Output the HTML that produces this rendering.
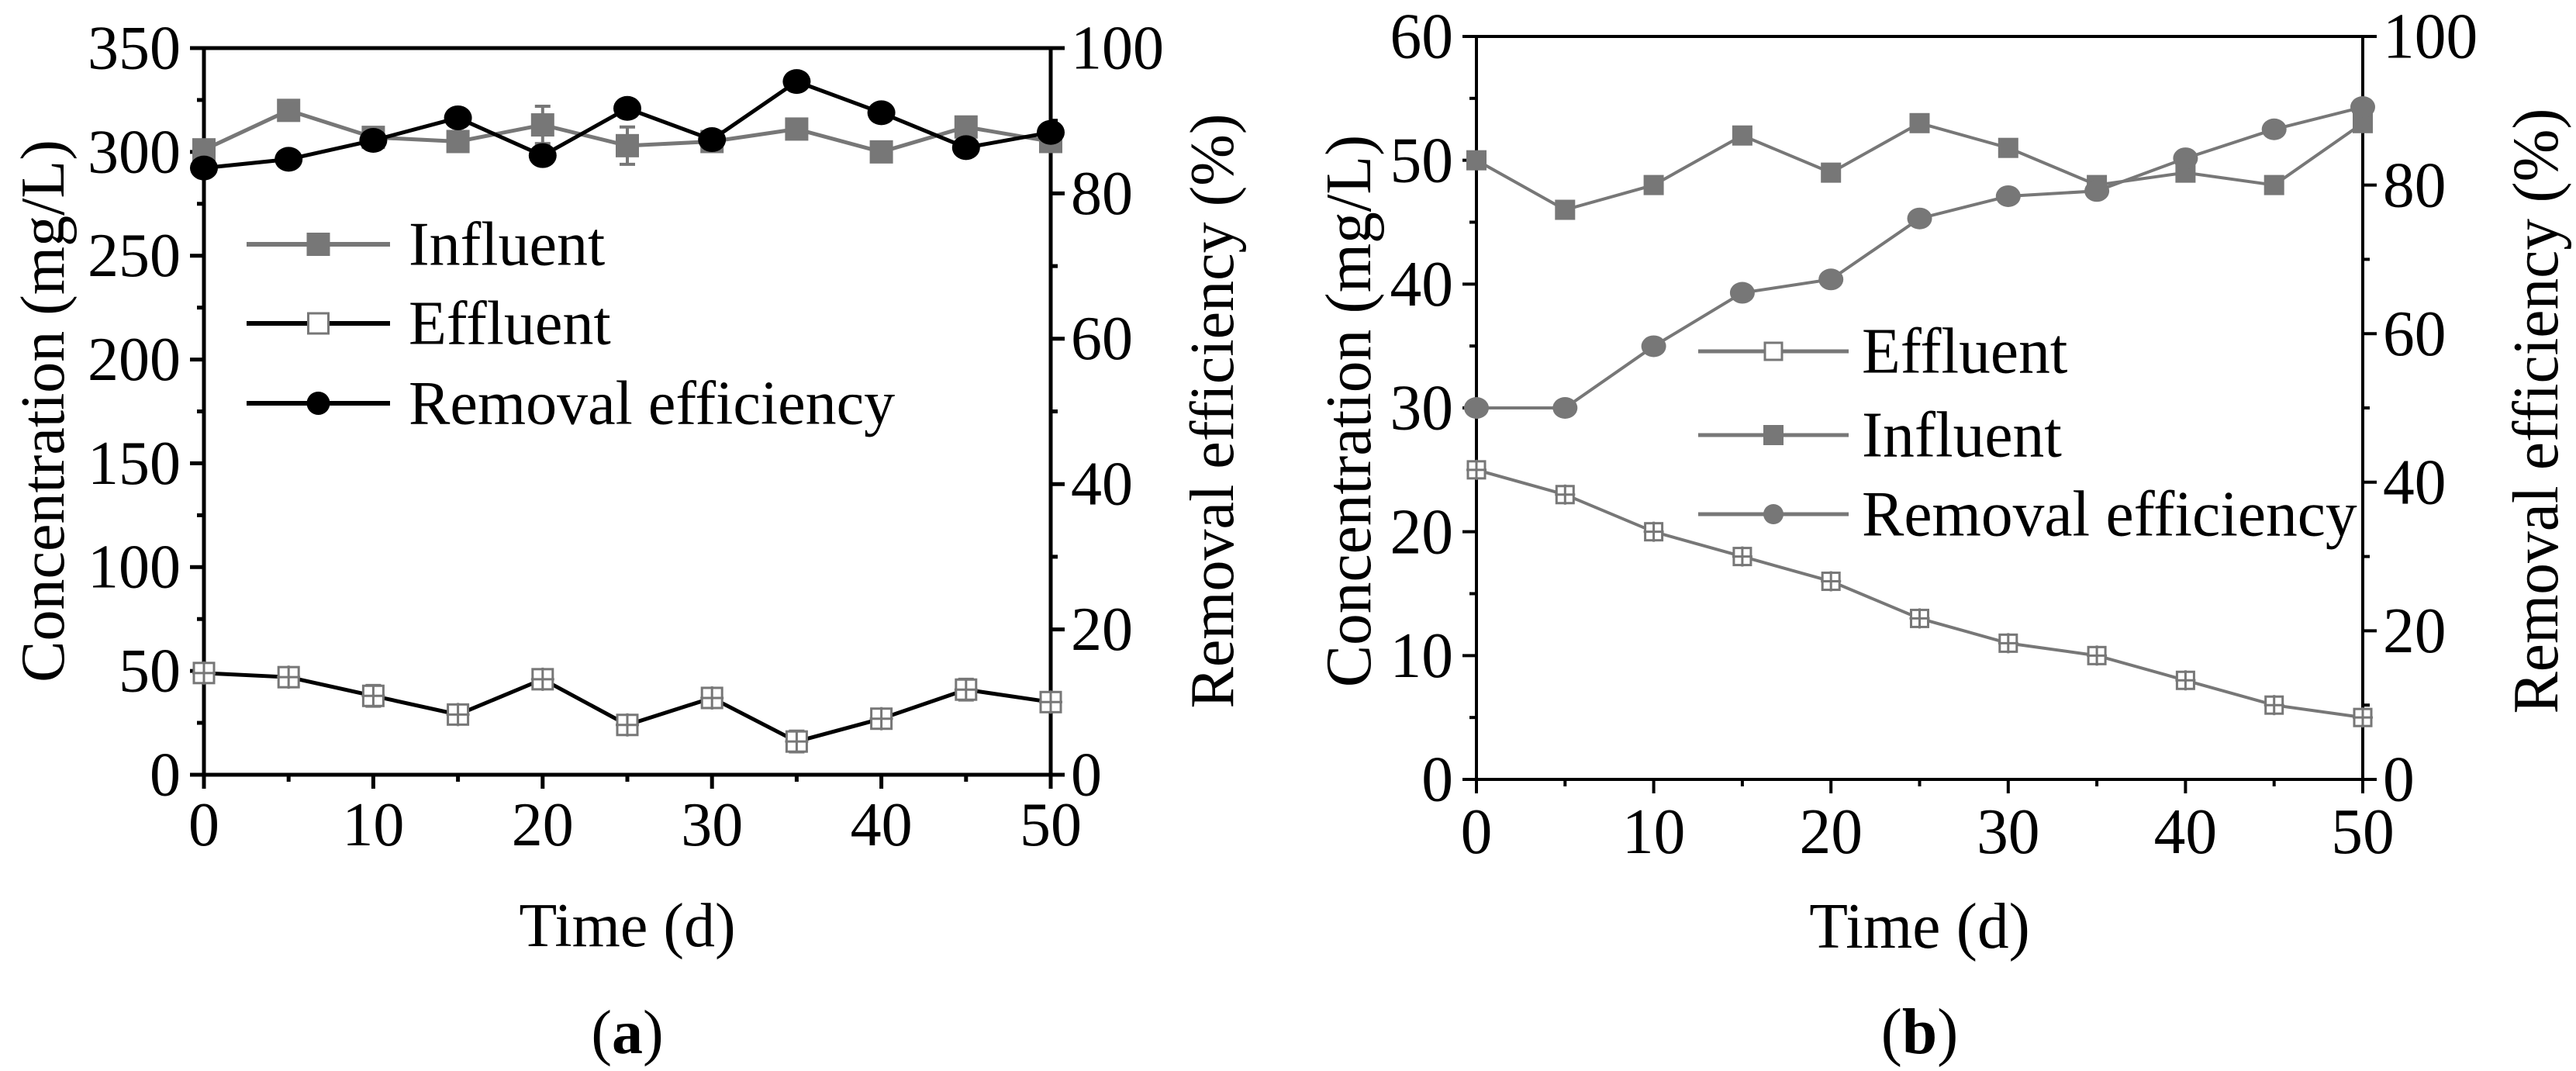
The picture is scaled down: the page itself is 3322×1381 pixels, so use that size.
<!DOCTYPE html>
<html><head><meta charset="utf-8"><style>
html,body{margin:0;padding:0;background:#fff;}
svg{display:block;font-family:"Liberation Serif",serif;}
</style></head><body>
<svg id="fig" width="3322" height="1381" viewBox="0 0 3322 1381" xmlns="http://www.w3.org/2000/svg"></svg>
<script>
const days = [0,5,10,15,20,25,30,35,40,45,50];
const aInfluent = [301,320,307,305,313,303,305,311,300,312,305];
const aInfluentErr = [3,3,4,3,9,9,3,4,3,4,3];
const aEffluent = [49,47,38,29,46,24,37,16,27,41,35];
const aEffluentErr = [2,3,5,3,4,4,4,5,3,5,2];
const aRemoval = [83.5,84.7,87.3,90.4,85.2,91.7,87.4,95.4,91.1,86.3,88.4];
const bInfluent = [50,46,48,52,49,53,51,48,49,48,53];
const bEffluent = [25,23,20,18,16,13,11,10,8,6,5];
const bRemoval = [50,50,58.3,65.5,67.3,75.5,78.5,79.2,83.6,87.5,90.5];
const xTicks = [0,10,20,30,40,50];
const aLeftTicks = [0,50,100,150,200,250,300,350];
const bLeftTicks = [0,10,20,30,40,50,60];
const rightTicks = [0,20,40,60,80,100];

const NS = "http://www.w3.org/2000/svg";
const svg = document.getElementById('fig');
function mk(tag, attrs, parent, text){
  const e = document.createElementNS(NS, tag);
  for (const k in attrs) e.setAttribute(k, attrs[k]);
  if (text !== undefined) e.textContent = text;
  (parent || svg).appendChild(e);
  return e;
}

function panel(cfg){
  const g = mk('g', {});
  
  
  const L=cfg.L,R=cfg.R,T=cfg.T,B=cfg.B;
  const xs = v => L + (v-0)/50*(R-L);
  const yl = v => B - v/cfg.yMax*(B-T);
  const yr = v => B - v/100*(B-T);
  const fs = cfg.fs, sx = cfg.sx;
  function txt(x,y,anchor,s,rot){
    return mk('text',{x:0,y:0,'font-size':fs,'text-anchor':anchor,
      transform:`translate(${x},${y})${rot?' rotate(-90)':''} scale(${sx},1)`},g,s);
  }
  const frame = mk('rect',{x:L,y:T,width:R-L,height:B-T,fill:'none',stroke:'#000','stroke-width':cfg.lw},g);
  
  
  for (let v=0; v<=50; v+=5){
    const major = v%10===0;
    mk('line',{x1:xs(v),x2:xs(v),y1:B,y2:B+(major?18:9),stroke:'#000','stroke-width':cfg.lw},g);
  }
  xTicks.forEach(v=>{
    const t = txt(xs(v),B+cfg.xtlOff,'middle',String(v));
    
    
  });
  const lt = cfg.leftTicks;
  const step = lt[1]-lt[0];
  for (let v=0; v<=cfg.yMax+1e-9; v+=step/2){
    const major = Math.abs((v/step)-Math.round(v/step))<1e-6;
    mk('line',{x1:L,x2:L-(major?18:9),y1:yl(v),y2:yl(v),stroke:'#000','stroke-width':cfg.lw},g);
  }
  lt.forEach(v=>{
    const t = txt(L-30,yl(v)+fs*0.33,'end',String(v));
    
    
  });
  for (let v=0; v<=100; v+=10){
    const major = v%20===0;
    mk('line',{x1:R,x2:R+(major?18:9),y1:yr(v),y2:yr(v),stroke:'#000','stroke-width':cfg.lw},g);
  }
  rightTicks.forEach(v=>{
    const t = txt(R+26,yr(v)+fs*0.33,'start',String(v));
    
    
  });
  const yt = txt(cfg.ltx,cfg.ltc,'middle','Concentration (mg/L)',true);
  
  
  const rt = txt(cfg.rtx,cfg.rtc,'middle','Removal efficiency (%)',true);
  
  
  const xt = txt((L+R)/2,cfg.xty,'middle','Time (d)');
  
  
  const lab = txt((L+R)/2,1358,'middle');
  
  
  mk('tspan',{},lab,'(');
  mk('tspan',{'font-weight':'bold'},lab,cfg.label);
  mk('tspan',{},lab,')');
  cfg.series.forEach(s=>{
    const sg = mk('g',{},g);
    
    
    const yf = s.right ? yr : yl;
    const pts = days.map((d,i)=>xs(d)+','+yf(s.vals[i])).join(' ');
    mk('polyline',{points:pts,fill:'none',stroke:s.line,'stroke-width':cfg.slw},sg);
    days.forEach((d,i)=>{
      const cx = xs(d), cy = yf(s.vals[i]);
      if (s.err){
        const e = s.err[i];
        mk('line',{x1:cx,x2:cx,y1:yf(s.vals[i]+e),y2:yf(s.vals[i]-e),stroke:s.mk,'stroke-width':4},sg);
        mk('line',{x1:cx-10,x2:cx+10,y1:yf(s.vals[i]+e),y2:yf(s.vals[i]+e),stroke:s.mk,'stroke-width':4},sg);
        mk('line',{x1:cx-10,x2:cx+10,y1:yf(s.vals[i]-e),y2:yf(s.vals[i]-e),stroke:s.mk,'stroke-width':4},sg);
      }
      let m;
      if (s.shape==='sq') m = mk('rect',{x:cx-cfg.ms,y:cy-cfg.ms,width:2*cfg.ms,height:2*cfg.ms,fill:s.mk},sg);
      else if (s.shape==='osq') m = mk('rect',{x:cx-cfg.ms+2,y:cy-cfg.ms+2,width:2*cfg.ms-4,height:2*cfg.ms-4,fill:'#fff',stroke:'#777','stroke-width':3},sg);
      else m = mk('ellipse',{cx:cx,cy:cy,rx:cfg.ms+3,ry:cfg.ms+1,fill:s.mk},sg);
      
      
      if (s.shape==='osq'){
        mk('line',{x1:cx,x2:cx,y1:cy-cfg.ms,y2:cy+cfg.ms,stroke:'#777','stroke-width':3},sg);
        mk('line',{x1:cx-cfg.ms,x2:cx+cfg.ms,y1:cy,y2:cy,stroke:'#777','stroke-width':3},sg);
      }
    });
  });
  const lg = mk('g',{},g);
  
  
  cfg.legend.forEach((it,i)=>{
    const y = cfg.lgy[i];
    const eg = mk('g',{},lg);
    
    
    mk('line',{x1:cfg.lgx1,x2:cfg.lgx2,y1:y,y2:y,stroke:it.line,'stroke-width':cfg.slw+1},eg);
    const mx=(cfg.lgx1+cfg.lgx2)/2;
    if (it.shape==='sq') mk('rect',{x:mx-cfg.ms,y:y-cfg.ms,width:2*cfg.ms,height:2*cfg.ms,fill:it.mk},eg);
    else if (it.shape==='osq') mk('rect',{x:mx-cfg.ms+2,y:y-cfg.ms+2,width:2*cfg.ms-4,height:2*cfg.ms-4,fill:'#fff',stroke:'#777','stroke-width':3},eg);
    else mk('ellipse',{cx:mx,cy:y,rx:cfg.ms,ry:cfg.ms,fill:it.mk},eg);
    mk('text',{x:0,y:0,'font-size':fs,transform:`translate(${cfg.lgtx},${y+fs*0.33}) scale(${sx},1)`},eg,it.text);
  });
}

panel({name:'chart-a',label:'a',L:263,R:1355,T:62,B:999,yMax:350,leftTicks:aLeftTicks,fs:80,sx:1,lw:5,slw:5,ms:15,
  ltx:82,ltc:530,rtx:1590,rtc:530,xty:1220,xtlOff:91,
  series:[
    {name:'influent-series-a',vals:aInfluent,err:aInfluentErr,line:'#777',mk:'#777',shape:'sq'},
    {name:'effluent-series-a',vals:aEffluent,err:aEffluentErr,line:'#000',mk:'#777',shape:'osq'},
    {name:'removal-series-a',vals:aRemoval,right:true,line:'#000',mk:'#000',shape:'c'}
  ],
  legend:[{text:'Influent',line:'#777',mk:'#777',shape:'sq'},{text:'Effluent',line:'#000',mk:'#777',shape:'osq'},{text:'Removal efficiency',line:'#000',mk:'#000',shape:'c'}],
  lgy:[315,417,520],lgx1:318,lgx2:503,lgtx:527});

panel({name:'chart-b',label:'b',L:1904,R:3047,T:47,B:1005,yMax:60,leftTicks:bLeftTicks,fs:84,sx:0.97,lw:4,slw:4,ms:13,
  ltx:1767,ltc:530,rtx:3298,rtc:530,xty:1222,xtlOff:95,
  series:[
    {name:'influent-series-b',vals:bInfluent,line:'#777',mk:'#777',shape:'sq'},
    {name:'effluent-series-b',vals:bEffluent,line:'#777',mk:'#777',shape:'osq'},
    {name:'removal-series-b',vals:bRemoval,right:true,line:'#777',mk:'#777',shape:'c'}
  ],
  legend:[{text:'Effluent',line:'#777',mk:'#777',shape:'osq'},{text:'Influent',line:'#777',mk:'#777',shape:'sq'},{text:'Removal efficiency',line:'#777',mk:'#777',shape:'c'}],
  lgy:[453,561,663],lgx1:2190,lgx2:2384,lgtx:2401});
</script>
</body></html>
